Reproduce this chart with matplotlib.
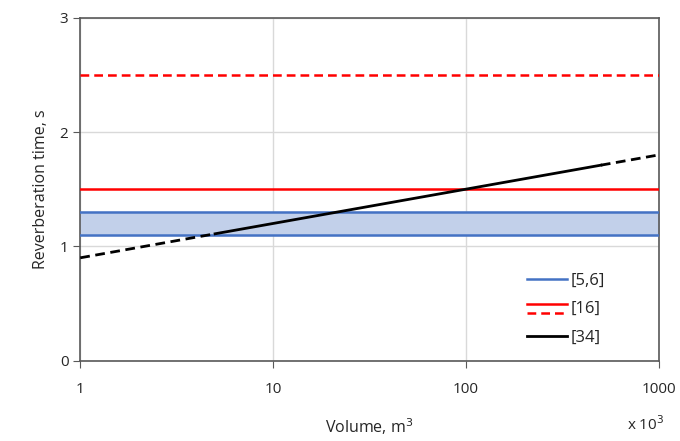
import numpy as np
import matplotlib.pyplot as plt
from matplotlib.lines import Line2D
from matplotlib.legend_handler import HandlerBase

plt.rcParams['font.family'] = ['Open Sans', 'DejaVu Sans']

# x-axis limits (thousands of m3)
vol_range = [1, 1000]

# [5,6] band
band_low, band_high = 1.1, 1.3
# [16] limits
red_solid = 1.5
red_dashed = 2.5
# [34] line: dashed part, solid part, dashed part
vol_34_lo = [1, 5]
rt_34_lo = [0.9, 1.11]
vol_34_mid = [5, 500]
rt_34_mid = [1.11, 1.71]
vol_34_hi = [500, 1000]
rt_34_hi = [1.71, 1.8]

blue = '#4472C4'
red = '#FF0000'
spine_c = '#595959'
dash = (0, (3.5, 2))

fig, ax = plt.subplots(figsize=(6.8, 4.41), dpi=100)
fig.subplots_adjust(left=0.118, right=0.969, top=0.96, bottom=0.182)

ax.set_xscale('log')
ax.set_xlim(vol_range)
ax.set_ylim(0, 3)

# band
ax.fill_between(vol_range, band_low, band_high, color='#C2D0EA', zorder=2)
ax.plot(vol_range, [band_low] * 2, color=blue, lw=1.8, zorder=3)
ax.plot(vol_range, [band_high] * 2, color=blue, lw=1.8, zorder=3)

# red
ax.plot(vol_range, [red_solid] * 2, color=red, lw=1.8, zorder=3)
ax.plot(vol_range, [red_dashed] * 2, color=red, lw=1.8, ls=dash, zorder=3)

# black
ax.plot(vol_34_lo, rt_34_lo, color='black', lw=2, ls=dash, zorder=4)
ax.plot(vol_34_mid, rt_34_mid, color='black', lw=2, zorder=4)
ax.plot(vol_34_hi, rt_34_hi, color='black', lw=2, ls=dash, zorder=4)

ax.set_xticks([1, 10, 100, 1000])
ax.set_xticklabels(['1', '10', '100', '1000'])
ax.xaxis.set_minor_locator(plt.NullLocator())
ax.set_yticks([0, 1, 2, 3])

ax.grid(True, color='#D9D9D9', lw=1, zorder=0)
ax.set_axisbelow(True)

for s in ax.spines.values():
    s.set_color(spine_c)
    s.set_linewidth(1.2)

ax.tick_params(direction='out', length=5, color=spine_c, labelsize=11,
               labelcolor='#262626')
ax.tick_params(axis='x', pad=10)

ax.set_xlabel('Volume, m$^3$', fontsize=11.5, color='#262626', labelpad=14)
ax.set_ylabel('Reverberation time, s', fontsize=11.5, color='#262626', labelpad=8)
fig.text(0.95, 0.025, 'x 10$^3$', fontsize=11, color='#262626', ha='center')


# legend: red entry shows solid above dashed
class HandlerTwoLines(HandlerBase):
    def create_artists(self, legend, orig_handle, xdescent, ydescent,
                       width, height, fontsize, trans):
        y1 = height * 0.8 - ydescent
        y2 = height * 0.05 - ydescent
        l1 = Line2D([-xdescent, width - xdescent], [y1, y1], color=red, lw=1.8)
        l2 = Line2D([-xdescent, width - xdescent], [y2, y2], color=red, lw=1.8,
                    ls=dash)
        l1.set_transform(trans)
        l2.set_transform(trans)
        return [l1, l2]


class RedPair:
    pass


h_blue = Line2D([], [], color=blue, lw=1.8)
h_red = RedPair()
h_black = Line2D([], [], color='black', lw=2)
ax.legend([h_blue, h_red, h_black], ['[5,6]', '[16]', '[34]'],
          handler_map={RedPair: HandlerTwoLines()},
          loc='lower left', bbox_to_anchor=(0.746, 0.0), frameon=False,
          fontsize=12, handlelength=2.4, handletextpad=0.25, labelspacing=0.75,
          labelcolor='#262626')

fig.savefig('out.png', dpi=100)
